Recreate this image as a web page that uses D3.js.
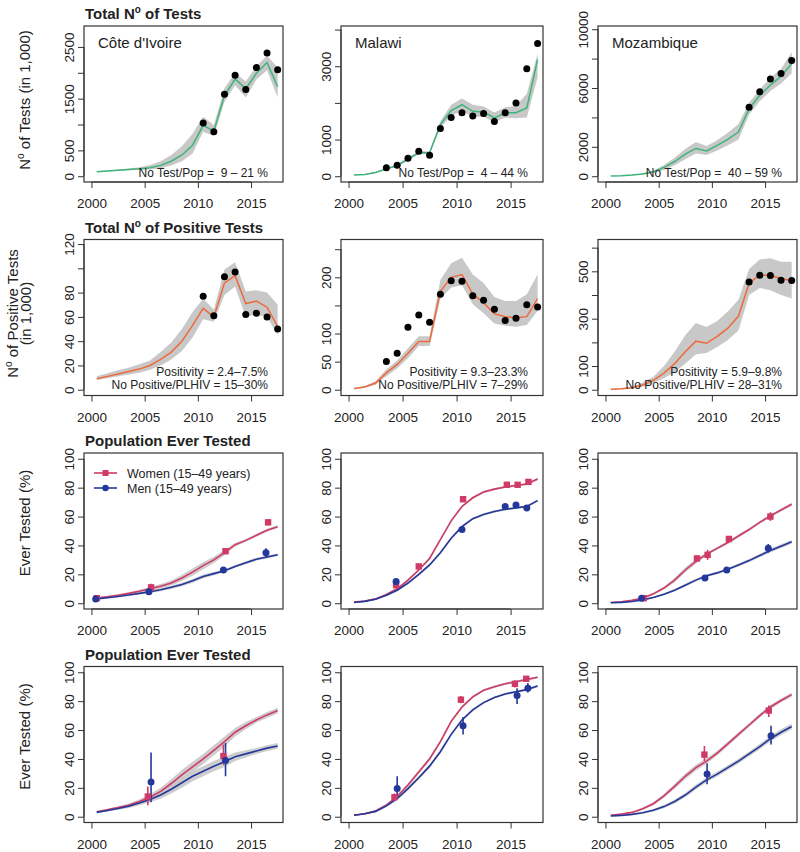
<!DOCTYPE html>
<html>
<head>
<meta charset="utf-8">
<script src="https://cdn.jsdelivr.net/npm/d3@7"></script>
<style>
  body { margin: 0; background: #fff; }
  text { font-family: "Liberation Sans", Arial, Helvetica, sans-serif; fill: #222; }
</style>
</head>
<body>
<script>
// model years (mid-year points)
var years = [2000.5, 2001.5, 2002.5, 2003.5, 2004.5, 2005.5, 2006.5, 2007.5, 2008.5, 2009.5,
             2010.5, 2011.5, 2012.5, 2013.5, 2014.5, 2015.5, 2016.5, 2017.5];
var countries = ["C\u00f4te d'Ivoire", "Malawi", "Mozambique"];
var yearTicks = [2000, 2005, 2010, 2015];

// ---- row 1: total number of tests (in 1,000)
var testsYlim = [[0, 2793], [0, 3940], [0, 9826]];
var testsTicks = [[0, 500, 1000, 1500, 2000, 2500], [0, 1000, 2000, 3000, 4000], [0, 2000, 4000, 6000, 8000, 10000]];
var testsLabels = [[0, 500, 1500, 2500], [0, 1000, 3000], [0, 2000, 6000, 10000]];
var testsNote = ["No Test/Pop =  9 \u2013 21 %", "No Test/Pop =  4 \u2013 44 %", "No Test/Pop =  40 \u2013 59 %"];

var ciTestsFit = [85, 100, 115, 130, 145, 165, 210, 290, 410, 600, 985, 870, 1560, 1880, 1690, 1990, 2200, 1730];
var ciTestsLo  = [80, 92, 104, 115, 125, 130, 155, 205, 290, 440, 860, 780, 1440, 1760, 1520, 1870, 2050, 1520];
var ciTestsHi  = [92, 110, 130, 150, 175, 215, 290, 410, 580, 820, 1150, 990, 1700, 2000, 1830, 2130, 2330, 2100];
var ciTestsObsYears = [2010.5, 2011.5, 2012.5, 2013.5, 2014.5, 2015.5, 2016.5, 2017.5];
var ciTestsObs = [1030, 860, 1585, 1950, 1675, 2100, 2385, 2060];

var mwTestsFit = [30, 50, 100, 200, 290, 470, 640, 640, 1410, 1790, 1950, 1770, 1750, 1590, 1730, 1730, 1860, 3180];
var mwTestsLo  = [25, 42, 85, 175, 260, 430, 600, 600, 1320, 1650, 1780, 1620, 1620, 1470, 1600, 1580, 1600, 2700];
var mwTestsHi  = [35, 58, 115, 225, 320, 510, 680, 680, 1500, 1950, 2120, 1950, 1900, 1740, 1880, 1920, 2250, 3350];
var mwTestsObsYears = [2003.5, 2004.5, 2005.5, 2006.5, 2007.5, 2008.5, 2009.5, 2010.5, 2011.5, 2012.5, 2013.5, 2014.5, 2015.5, 2016.5, 2017.5];
var mwTestsObs = [230, 300, 490, 680, 575, 1300, 1600, 1730, 1640, 1710, 1490, 1730, 2000, 2930, 3620];

var mzTestsFit = [20, 40, 80, 150, 300, 600, 1000, 1500, 1890, 1720, 2100, 2500, 3000, 4600, 5500, 6200, 6800, 7650];
var mzTestsLo  = [15, 30, 60, 110, 220, 430, 750, 1150, 1550, 1450, 1750, 2100, 2500, 4200, 5100, 5800, 6300, 7000];
var mzTestsHi  = [25, 50, 100, 190, 380, 770, 1250, 1850, 2330, 2050, 2450, 2950, 3550, 5000, 5900, 6700, 7300, 8450];
var mzTestsObsYears = [2013.5, 2014.5, 2015.5, 2016.5, 2017.5];
var mzTestsObs = [4700, 5740, 6620, 6990, 7870];

// ---- row 2: total number of positive tests (in 1,000)
var posYlim = [[0, 119], [0, 257], [0, 610]];
var posTicks = [[0, 20, 40, 60, 80, 100, 120], [0, 50, 100, 150, 200, 250], [0, 100, 200, 300, 400, 500, 600]];
var posLabels = [[0, 20, 40, 60, 80, 120], [0, 50, 100, 200], [0, 100, 300, 500]];
var posNote1 = ["Positivity = 2.4\u20137.5%", "Positivity = 9.3\u201323.3%", "Positivity = 5.9\u20139.8%"];
var posNote2 = ["No Positive/PLHIV = 15\u201330%", "No Positive/PLHIV = 7\u201329%", "No Positive/PLHIV = 28\u201331%"];

var ciPosFit = [9, 11, 13, 15, 17, 20, 25, 31, 40, 53, 67, 60, 88, 94, 71, 73, 68, 52];
var ciPosLo  = [8, 9.5, 11, 12.5, 14, 16.5, 20, 25, 32, 43, 58, 56, 78, 85, 60, 62, 60, 45];
var ciPosHi  = [11, 13.5, 16, 18, 21, 24, 31, 39, 50, 64, 75, 66, 99, 105, 81, 82, 80, 70];
var ciPosObsYears = [2010.5, 2011.5, 2012.5, 2013.5, 2014.5, 2015.5, 2016.5, 2017.5];
var ciPosObs = [77, 61, 93, 97, 62, 63, 60, 50];

var mwPosFit = [2, 5, 12, 30, 45, 65, 86, 86, 175, 200, 205, 170, 155, 135, 130, 128, 130, 162];
var mwPosLo  = [1, 3.5, 9, 24, 38, 56, 78, 78, 162, 182, 186, 152, 136, 118, 114, 112, 115, 140];
var mwPosHi  = [3, 6.5, 15, 36, 52, 74, 95, 95, 195, 225, 235, 205, 190, 165, 158, 158, 170, 205];
var mwPosObsYears = [2003.5, 2004.5, 2005.5, 2006.5, 2007.5, 2008.5, 2009.5, 2010.5, 2011.5, 2012.5, 2013.5, 2014.5, 2015.5, 2016.5, 2017.5];
var mwPosObs = [50, 65, 111, 133, 120, 170, 194, 193, 167, 159, 143, 123, 127, 151, 147];

var mzPosFit = [2, 4, 8, 20, 40, 70, 110, 160, 205, 196, 225, 260, 311, 450, 485, 482, 470, 460];
var mzPosLo  = [1, 2.5, 5, 13, 28, 48, 75, 110, 150, 155, 180, 210, 250, 400, 430, 420, 400, 385];
var mzPosHi  = [3, 6, 12, 30, 55, 100, 160, 230, 282, 265, 290, 330, 380, 510, 550, 555, 540, 540];
var mzPosObsYears = [2013.5, 2014.5, 2015.5, 2016.5, 2017.5];
var mzPosObs = [455, 483, 482, 462, 461];

// ---- rows 3-4: population ever tested (%)
var everTicks = [0, 20, 40, 60, 80, 100];

// row 3
var ciEverW   = [3.5, 4.5, 5.5, 6.8, 8.3, 10, 11.8, 14, 17.5, 21.5, 26, 30, 35, 40.5, 43.5, 47, 50.5, 53];
var ciEverWhw = [0.5, 0.6, 0.7, 0.8, 1, 1.2, 1.5, 1.8, 2.2, 2.5, 2.5, 2.2, 1.8, 1.2, 1, 1, 1, 1];
var ciEverM   = [3, 3.8, 4.7, 5.7, 6.8, 8, 9.3, 11, 13, 15.5, 18.5, 20.5, 22.5, 25.5, 28, 30.5, 32, 33.5];
var ciEverMhw = [0.5, 0.5, 0.6, 0.7, 0.8, 0.9, 1, 1.1, 1.2, 1.3, 1.3, 1.2, 1.1, 1, 1, 1, 1, 1];
var ciEverWObsYears = [2000.5, 2005.6, 2012.6, 2016.6];
var ciEverWObs = [3.5, 11, 36, 56];
var ciEverWObsLo = [3, 8.5, 34, 54];
var ciEverWObsHi = [4, 13.5, 38, 58];
var ciEverMObsYears = [2000.4, 2005.4, 2012.4, 2016.4];
var ciEverMObs = [3, 8, 23, 35];
var ciEverMObsLo = [2.5, 7, 21, 32];
var ciEverMObsHi = [3.5, 9, 25, 38];

var mwEverW   = [0.8, 1.5, 3, 6, 10, 16, 23, 31, 44, 57, 67, 73, 77, 79, 80.5, 81.5, 82.5, 86];
var mwEverWhw = [0.3, 0.4, 0.5, 0.6, 0.7, 0.8, 0.9, 1, 1, 1, 0.9, 0.8, 0.8, 0.8, 0.8, 0.8, 0.8, 0.8];
var mwEverM   = [0.5, 1.3, 2.8, 5.5, 9, 14, 20, 26.5, 35, 45, 53, 58.5, 61.5, 63.5, 65, 66, 67, 71];
var mwEverMhw = [0.3, 0.4, 0.5, 0.6, 0.7, 0.8, 0.9, 1, 1, 1, 0.9, 0.8, 0.8, 0.8, 0.8, 0.8, 0.8, 0.8];
var mwEverWObsYears = [2004.4, 2006.5, 2010.6, 2014.65, 2015.65, 2016.65];
var mwEverWObs = [12.5, 25.5, 72, 82, 82, 84];
var mwEverWObsLo = [11, 24, 70.5, 80.5, 80.5, 82.5];
var mwEverWObsHi = [14, 27, 73.5, 83.5, 83.5, 85.5];
var mwEverMObsYears = [2004.4, 2010.5, 2014.5, 2015.5, 2016.5];
var mwEverMObs = [15, 51, 67, 68, 66];
var mwEverMObsLo = [13.5, 49.5, 65.5, 66.5, 64.5];
var mwEverMObsHi = [16.5, 52.5, 68.5, 69.5, 67.5];

var mzEverW   = [0.5, 1, 2, 3.5, 6.5, 10.5, 16, 23, 29, 34, 38, 42, 46.5, 51, 56, 60.5, 64.5, 68.5];
var mzEverWhw = [0.3, 0.4, 0.5, 0.6, 0.8, 1, 1.4, 1.8, 1.6, 1.2, 1, 1, 1, 1, 1, 1, 1, 1];
var mzEverM   = [0.3, 0.6, 1.2, 2.3, 4, 6.2, 9, 12.5, 16, 19, 21, 23.5, 26.5, 29.5, 33, 36.5, 39.5, 42.5];
var mzEverMhw = [0.2, 0.3, 0.4, 0.5, 0.6, 0.7, 0.8, 0.9, 0.9, 0.9, 0.9, 0.9, 1, 1.1, 1.2, 1.3, 1.3, 1.3];
var mzEverWObsYears = [2003.6, 2008.6, 2009.6, 2011.6, 2015.5];
var mzEverWObs = [3.5, 31, 33.5, 44.5, 60];
var mzEverWObsLo = [2.5, 29, 30, 42.5, 57];
var mzEverWObsHi = [4.5, 33, 37, 46.5, 63];
var mzEverMObsYears = [2003.4, 2009.35, 2011.4, 2015.3];
var mzEverMObs = [3.5, 17.5, 23, 38];
var mzEverMObsLo = [2.5, 15.5, 21, 35];
var mzEverMObsHi = [4.5, 19.5, 25, 41];

// row 4
var ciEver2W   = [3.5, 4.8, 6.3, 8, 10.5, 13.5, 17.5, 23, 29, 34.5, 40, 46, 52, 58.5, 63, 67, 70.5, 73.5];
var ciEver2Whw = [0.5, 0.7, 0.9, 1.2, 1.5, 2, 2.5, 3, 3.5, 3.5, 3.5, 3.5, 3.5, 3, 2.5, 2, 2, 2];
var ciEver2M   = [3, 4.3, 5.7, 7.3, 9.5, 12, 15, 19, 23.5, 28, 31.5, 35, 38, 41.5, 43.5, 45.5, 47.5, 49];
var ciEver2Mhw = [0.5, 0.7, 0.9, 1.2, 1.5, 2, 2.5, 3, 3.5, 3.5, 3.5, 3.5, 3.5, 3, 2.5, 2, 2, 2];
var ciEver2WObsYears = [2005.3, 2012.4];
var ciEver2WObs = [14, 42];
var ciEver2WObsLo = [8, 36];
var ciEver2WObsHi = [21, 50];
var ciEver2MObsYears = [2005.6, 2012.6];
var ciEver2MObs = [24, 39];
var ciEver2MObsLo = [10, 28];
var ciEver2MObsHi = [44.5, 51];

var mwEver2W   = [1, 2, 4, 8, 14, 22, 31, 40, 52, 66, 76, 83, 87.5, 90, 92, 93.5, 95, 96.5];
var mwEver2Whw = [0.3, 0.5, 0.7, 0.9, 1, 1.2, 1.3, 1.3, 1.3, 1.2, 1, 0.9, 0.8, 0.8, 0.8, 0.8, 0.8, 0.8];
var mwEver2M   = [1, 2, 3.7, 7.5, 12.5, 19.5, 27, 35, 45, 57, 67, 74, 79, 82.5, 85, 86.5, 88, 90.5];
var mwEver2Mhw = [0.3, 0.5, 0.7, 0.9, 1, 1.2, 1.3, 1.3, 1.3, 1.2, 1, 0.9, 0.8, 0.8, 0.8, 0.8, 0.8, 0.8];
var mwEver2WObsYears = [2004.25, 2010.4, 2015.4, 2016.45];
var mwEver2WObs = [13.5, 81, 92, 95.5];
var mwEver2WObsLo = [11, 78.5, 89.5, 94];
var mwEver2WObsHi = [16, 83.5, 94.5, 97];
var mwEver2MObsYears = [2004.5, 2010.6, 2015.6, 2016.6];
var mwEver2MObs = [19.5, 63, 84, 89];
var mwEver2MObsLo = [14, 57, 78, 86];
var mwEver2MObsHi = [28, 69, 89, 92.5];

var mzEver2W   = [1, 1.8, 3, 5.5, 9, 14.5, 21, 28, 34, 38.5, 44, 50.5, 57, 63.5, 70, 76, 80.5, 84.5];
var mzEver2Whw = [0.3, 0.5, 0.7, 0.9, 1.1, 1.4, 1.7, 2, 2, 1.9, 1.7, 1.5, 1.4, 1.4, 1.4, 1.4, 1.4, 1.4];
var mzEver2M   = [0.5, 0.9, 1.6, 2.8, 4.5, 7, 10.5, 15, 20.5, 25.5, 29.5, 34, 38.5, 43.5, 48.5, 54, 58.5, 62.5];
var mzEver2Mhw = [0.3, 0.4, 0.5, 0.7, 0.9, 1.1, 1.3, 1.5, 1.6, 1.6, 1.6, 1.6, 1.6, 1.7, 1.8, 1.9, 2, 2];
var mzEver2WObsYears = [2009.3, 2015.35];
var mzEver2WObs = [43, 73.5];
var mzEver2WObsLo = [38.5, 69];
var mzEver2WObsHi = [49, 77];
var mzEver2MObsYears = [2009.55, 2015.56];
var mzEver2MObs = [29.5, 56];
var mzEver2MObsLo = [22.5, 50];
var mzEver2MObsHi = [37, 63];

// layout
var colLeft = [84, 341, 598];
var colWidth = [199, 202, 199];
var rowTop = [26, 239.5, 453, 666.5];
var boxH = 156;
var xDomain = [1999.3, 2018.0];
var fontFam = "'Liberation Sans', Arial, Helvetica, sans-serif";

var green = "#3db47a", orange = "#ee6a3b", pink = "#cf3a66", navy = "#23389a",
    bandGrey = "#c8c8c8", axisCol = "#333";

var svg = d3.select("body").append("svg")
  .attr("width", 800).attr("height", 852);
svg.append("rect").attr("width", 800).attr("height", 852).attr("fill", "#fff");
var defs = svg.append("defs");

function panel(r, c, ylim, ticks, labels) {
  var x0 = colLeft[c], y0 = rowTop[r], w = colWidth[c];
  var pad = (ylim[1] - ylim[0]) * 0.04; // R style axis padding
  var x = d3.scaleLinear().domain(xDomain).range([x0, x0 + w]);
  var y = d3.scaleLinear().domain([ylim[0] - pad, ylim[1] + pad]).range([y0 + boxH, y0]);
  var id = "clip" + r + c;
  defs.append("clipPath").attr("id", id)
    .append("rect").attr("x", x0).attr("y", y0).attr("width", w).attr("height", boxH);
  var g = svg.append("g");
  var plot = g.append("g").attr("clip-path", "url(#" + id + ")");

  // y axis
  var ya = g.append("g").attr("transform", "translate(" + x0 + ",0)")
    .call(d3.axisLeft(y).tickValues(ticks).tickSize(6)
      .tickFormat(function(d) { return labels.indexOf(d) >= 0 ? d : ""; }));
  ya.attr("font-family", fontFam).attr("font-size", 13.5);
  ya.select(".domain").remove();
  ya.selectAll("line").attr("stroke", axisCol);
  ya.selectAll("text").attr("x", null).attr("dy", null)
    .attr("transform", "translate(-10,0) rotate(-90)")
    .attr("text-anchor", "middle").attr("fill", "#222");
  ya.append("line").attr("x1", 0).attr("x2", 0)
    .attr("y1", y(ticks[0])).attr("y2", y(ticks[ticks.length - 1])).attr("stroke", axisCol);

  // x axis
  var xa = g.append("g").attr("transform", "translate(0," + (y0 + boxH) + ")")
    .call(d3.axisBottom(x).tickValues(yearTicks).tickSize(6).tickFormat(d3.format("d")));
  xa.attr("font-family", fontFam).attr("font-size", 13.5);
  xa.select(".domain").remove();
  xa.selectAll("line").attr("stroke", axisCol);
  xa.selectAll("text").attr("y", 26).attr("dy", null).attr("fill", "#222");
  xa.append("line").attr("y1", 0).attr("y2", 0)
    .attr("x1", x(yearTicks[0])).attr("x2", x(yearTicks[yearTicks.length - 1])).attr("stroke", axisCol);

  return { g: g, plot: plot, x: x, y: y, x0: x0, y0: y0, w: w };
}

function box(p) {
  p.g.append("rect").attr("x", p.x0).attr("y", p.y0).attr("width", p.w).attr("height", boxH)
    .attr("fill", "none").attr("stroke", axisCol).attr("stroke-width", 1.2);
}

function band(p, lo, hi, col, op) {
  var area = d3.area().x(function(d, i) { return p.x(years[i]); })
    .y0(function(d, i) { return p.y(lo[i]); })
    .y1(function(d, i) { return p.y(hi[i]); });
  p.plot.append("path").datum(years).attr("d", area).attr("fill", col).attr("opacity", op || 1);
}

function bandHw(p, fit, hw, col, op) {
  var area = d3.area().x(function(d, i) { return p.x(years[i]); })
    .y0(function(d, i) { return p.y(fit[i] - hw[i]); })
    .y1(function(d, i) { return p.y(fit[i] + hw[i]); });
  p.plot.append("path").datum(years).attr("d", area).attr("fill", col).attr("opacity", op || 1);
}

function line(p, vals, col, wd) {
  var ln = d3.line().x(function(d, i) { return p.x(years[i]); }).y(function(d) { return p.y(d); });
  p.plot.append("path").datum(vals).attr("d", ln)
    .attr("fill", "none").attr("stroke", col).attr("stroke-width", wd);
}

function dots(p, xs, vals, col, shape) {
  vals.forEach(function(v, i) {
    if (shape === "square") {
      p.plot.append("rect").attr("x", p.x(xs[i]) - 3.2).attr("y", p.y(v) - 3.2)
        .attr("width", 6.4).attr("height", 6.4).attr("fill", col);
    } else {
      p.plot.append("circle").attr("cx", p.x(xs[i])).attr("cy", p.y(v))
        .attr("r", 3.5).attr("fill", col);
    }
  });
}

function errs(p, xs, lo, hi, col) {
  lo.forEach(function(v, i) {
    p.plot.append("line").attr("x1", p.x(xs[i])).attr("x2", p.x(xs[i]))
      .attr("y1", p.y(v)).attr("y2", p.y(hi[i])).attr("stroke", col).attr("stroke-width", 1.6);
  });
}

function note(p, lines, bottoms) {
  lines.forEach(function(t, i) {
    p.g.append("text").attr("x", p.x0 + p.w - 15).attr("y", p.y0 + boxH - bottoms[i])
      .attr("text-anchor", "end").style("font-size", "12px").style("white-space", "pre").text(t);
  });
}

function title(r, txt1, sup, txt2) {
  var t = svg.append("text").attr("x", colLeft[0] + 1).attr("y", rowTop[r] - 7)
    .style("font-size", "15px").style("font-weight", "bold");
  t.append("tspan").text(txt1);
  if (sup) {
    t.append("tspan").attr("dy", -6).style("font-size", "10px").text(sup);
    t.append("tspan").attr("dy", 6).text(txt2);
  }
}

// ---- row 1
var r1 = [
  [ciTestsFit, ciTestsLo, ciTestsHi, ciTestsObsYears, ciTestsObs],
  [mwTestsFit, mwTestsLo, mwTestsHi, mwTestsObsYears, mwTestsObs],
  [mzTestsFit, mzTestsLo, mzTestsHi, mzTestsObsYears, mzTestsObs]
];
r1.forEach(function(s, c) {
  var p = panel(0, c, testsYlim[c], testsTicks[c], testsLabels[c]);
  band(p, s[1], s[2], bandGrey);
  line(p, s[0], green, 1.5);
  dots(p, s[3], s[4], "#000");
  box(p);
  p.g.append("text").attr("x", p.x0 + 14).attr("y", p.y0 + 22).style("font-size", "15px").text(countries[c]);
  note(p, [testsNote[c]], [5]);
});

// ---- row 2
var r2 = [
  [ciPosFit, ciPosLo, ciPosHi, ciPosObsYears, ciPosObs],
  [mwPosFit, mwPosLo, mwPosHi, mwPosObsYears, mwPosObs],
  [mzPosFit, mzPosLo, mzPosHi, mzPosObsYears, mzPosObs]
];
r2.forEach(function(s, c) {
  var p = panel(1, c, posYlim[c], posTicks[c], posLabels[c]);
  band(p, s[1], s[2], bandGrey);
  line(p, s[0], orange, 1.5);
  dots(p, s[3], s[4], "#000");
  box(p);
  note(p, [posNote1[c], posNote2[c]], [20, 7]);
});

// ---- rows 3 and 4
var ever = [
  [
    [ciEverW, ciEverWhw, ciEverM, ciEverMhw, ciEverWObsYears, ciEverWObs, ciEverWObsLo, ciEverWObsHi, ciEverMObsYears, ciEverMObs, ciEverMObsLo, ciEverMObsHi],
    [mwEverW, mwEverWhw, mwEverM, mwEverMhw, mwEverWObsYears, mwEverWObs, mwEverWObsLo, mwEverWObsHi, mwEverMObsYears, mwEverMObs, mwEverMObsLo, mwEverMObsHi],
    [mzEverW, mzEverWhw, mzEverM, mzEverMhw, mzEverWObsYears, mzEverWObs, mzEverWObsLo, mzEverWObsHi, mzEverMObsYears, mzEverMObs, mzEverMObsLo, mzEverMObsHi]
  ],
  [
    [ciEver2W, ciEver2Whw, ciEver2M, ciEver2Mhw, ciEver2WObsYears, ciEver2WObs, ciEver2WObsLo, ciEver2WObsHi, ciEver2MObsYears, ciEver2MObs, ciEver2MObsLo, ciEver2MObsHi],
    [mwEver2W, mwEver2Whw, mwEver2M, mwEver2Mhw, mwEver2WObsYears, mwEver2WObs, mwEver2WObsLo, mwEver2WObsHi, mwEver2MObsYears, mwEver2MObs, mwEver2MObsLo, mwEver2MObsHi],
    [mzEver2W, mzEver2Whw, mzEver2M, mzEver2Mhw, mzEver2WObsYears, mzEver2WObs, mzEver2WObsLo, mzEver2WObsHi, mzEver2MObsYears, mzEver2MObs, mzEver2MObsLo, mzEver2MObsHi]
  ]
];
ever.forEach(function(row, k) {
  row.forEach(function(s, c) {
    var p = panel(2 + k, c, [0, 100], everTicks, everTicks);
    bandHw(p, s[0], s[1], "#c4c4c4", 0.85);
    bandHw(p, s[2], s[3], "#c4c4c4", 0.85);
    line(p, s[0], pink, 1.6);
    line(p, s[2], navy, 1.6);
    errs(p, s[4], s[6], s[7], pink);
    errs(p, s[8], s[10], s[11], navy);
    dots(p, s[4], s[5], pink, "square");
    dots(p, s[8], s[9], navy, "circle");
    box(p);
  });
});

// legend (row 3, first panel)
var legItems = [["Women (15\u201349 years)", pink, "square"], ["Men (15\u201349 years)", navy, "circle"]];
legItems.forEach(function(it, i) {
  var ly = 473 + i * 15;
  svg.append("line").attr("x1", 94).attr("x2", 117).attr("y1", ly).attr("y2", ly)
    .attr("stroke", it[1]).attr("stroke-width", 1.6);
  if (it[2] === "square") {
    svg.append("rect").attr("x", 105.5 - 3).attr("y", ly - 3).attr("width", 6).attr("height", 6).attr("fill", it[1]);
  } else {
    svg.append("circle").attr("cx", 105.5).attr("cy", ly).attr("r", 3.2).attr("fill", it[1]);
  }
  svg.append("text").attr("x", 127).attr("y", ly + 4.5).style("font-size", "12.5px").text(it[0]);
});

// titles
title(0, "Total N", "o", " of Tests");
title(1, "Total N", "o", " of Positive Tests");
title(2, "Population Ever Tested");
title(3, "Population Ever Tested");

// y axis titles
function yTitle(cy, bx, parts) {
  var t = svg.append("text").attr("transform", "translate(" + bx + "," + cy + ") rotate(-90)")
    .attr("text-anchor", "middle").style("font-size", "15px");
  parts.forEach(function(p) {
    var ts = t.append("tspan").text(p[0]);
    if (p[1]) ts.attr("dy", p[1]).style("font-size", p[2] || null);
  });
  return t;
}
yTitle(rowTop[0] + boxH / 2 - 4, 30, [["N"], ["o", -6, "10px"], [" of Tests (in 1,000)", 6]]);
yTitle(rowTop[1] + boxH / 2 - 4, 18, [["N"], ["o", -6, "10px"], [" of Positive Tests", 6]]);
yTitle(rowTop[1] + boxH / 2 - 4, 31, [["(in 1,000)"]]);
yTitle(rowTop[2] + boxH / 2 - 8, 30, [["Ever Tested (%)"]]);
yTitle(rowTop[3] + boxH / 2 - 8, 30, [["Ever Tested (%)"]]);
</script>
</body>
</html>
